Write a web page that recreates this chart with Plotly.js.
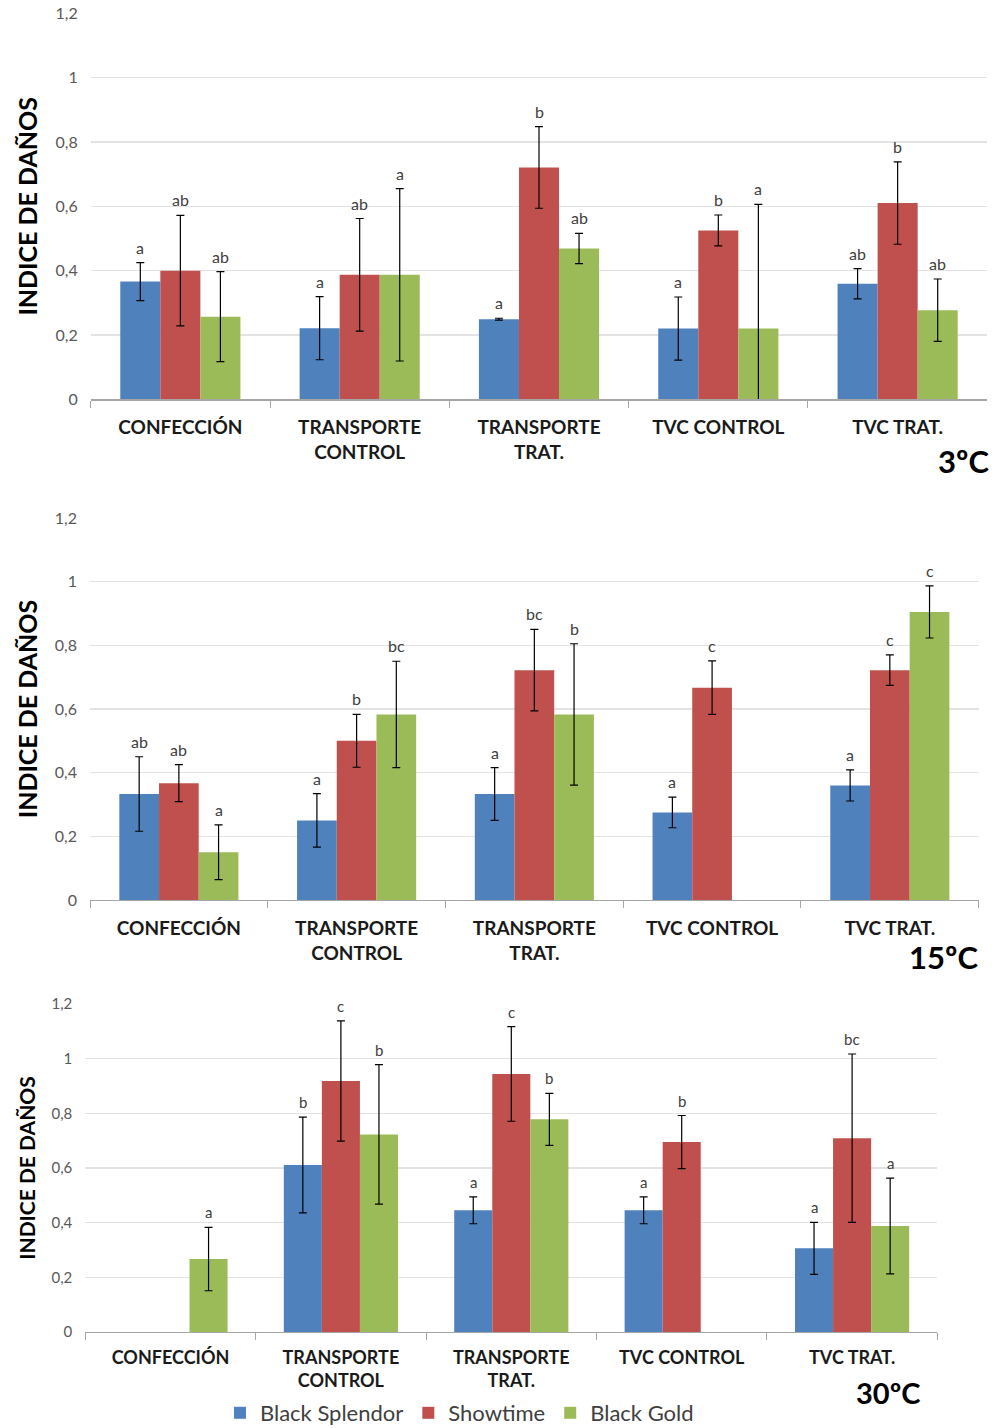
<!DOCTYPE html>
<html>
<head>
<meta charset="utf-8">
<script src="https://cdn.plot.ly/plotly-3.0.1.min.js"></script>
<style>html,body{margin:0;padding:0;background:#fff;}#chart{width:998px;height:1428px;}</style>
</head>
<body>
<div id="chart"></div>
<script>
const categories = ['CONFECCIÓN', 'TRANSPORTE<br>CONTROL', 'TRANSPORTE<br>TRAT.', 'TVC CONTROL', 'TVC TRAT.'];
const seriesNames = ['Black Splendor', 'Showtime', 'Black Gold'];
const seriesColors = ['#4f81bd', '#c0504d', '#9bbb59'];
const panelLabels = ['3ºC', '15ºC', '30ºC'];
const yTicks = [0, 0.2, 0.4, 0.6, 0.8, 1, 1.2];
const yTickText = ['0', '0,2', '0,4', '0,6', '0,8', '1', '1,2'];

// 3ºC
const bs3 = [0.366, 0.221, 0.249, 0.220, 0.359];
const bs3Err = [0.059, 0.098, 0.003, 0.098, 0.047];
const sh3 = [0.400, 0.387, 0.721, 0.525, 0.610];
const sh3Err = [0.172, 0.175, 0.127, 0.048, 0.128];
const bg3 = [0.257, 0.387, 0.469, 0.220, 0.277];
const bg3Err = [0.140, 0.268, 0.047, 0.386, 0.097];
const bs3Let = ['a', 'a', 'a', 'a', 'ab'];
const sh3Let = ['ab', 'ab', 'b', 'b', 'b'];
const bg3Let = ['ab', 'a', 'ab', 'a', 'ab'];

// 15ºC
const bs15 = [0.333, 0.250, 0.333, 0.275, 0.360];
const bs15Err = [0.117, 0.084, 0.083, 0.048, 0.049];
const sh15 = [0.367, 0.500, 0.722, 0.667, 0.722];
const sh15Err = [0.058, 0.083, 0.128, 0.084, 0.048];
const bg15 = [0.150, 0.583, 0.583, null, 0.905];
const bg15Err = [0.086, 0.167, 0.222, null, 0.082];
const bs15Let = ['ab', 'a', 'a', 'a', 'a'];
const sh15Let = ['ab', 'b', 'bc', 'c', 'c'];
const bg15Let = ['a', 'bc', 'b', '', 'c'];

// 30ºC
const bs30 = [null, 0.611, 0.445, 0.445, 0.306];
const bs30Err = [null, 0.175, 0.049, 0.049, 0.095];
const sh30 = [null, 0.918, 0.944, 0.695, 0.709];
const sh30Err = [null, 0.220, 0.173, 0.097, 0.308];
const bg30 = [0.267, 0.723, 0.778, null, 0.388];
const bg30Err = [0.116, 0.255, 0.095, null, 0.175];
const bs30Let = ['', 'b', 'a', 'a', 'a'];
const sh30Let = ['', 'c', 'c', 'b', 'bc'];
const bg30Let = ['a', 'b', 'b', '', 'a'];

const panels = [
  {vals: [bs3, sh3, bg3], errs: [bs3Err, sh3Err, bg3Err], lets: [bs3Let, sh3Let, bg3Let]},
  {vals: [bs15, sh15, bg15], errs: [bs15Err, sh15Err, bg15Err], lets: [bs15Let, sh15Let, bg15Let]},
  {vals: [bs30, sh30, bg30], errs: [bs30Err, sh30Err, bg30Err], lets: [bs30Let, sh30Let, bg30Let]}
];

const W = 998, H = 1428;
const geom = [
  {x0: 90.7, x1: 987.3, yTop: 13.3, yBot: 399.3, tickSize: 16, catSize: 19, titleSize: 25, letSize: 16, tagSize: 31, tagX: 963, tagY: 461, std: 11, tstd: 12},
  {x0: 90, x1: 978.7, yTop: 518, yBot: 900, tickSize: 16, catSize: 19, titleSize: 25, letSize: 16, tagSize: 31, tagX: 943, tagY: 957, std: 11, tstd: 12},
  {x0: 85.3, x1: 937.3, yTop: 1004, yBot: 1332, tickSize: 15, catSize: 18, titleSize: 21, letSize: 15, tagSize: 29, tagX: 888, tagY: 1392, std: 9, tstd: 12}
];
const bargap = 0.33;
const FONT = 'Lato, "Open Sans", sans-serif';

const traces = [];
const annotations = [];
const layout = {
  width: W, height: H,
  margin: {l: 0, r: 0, t: 0, b: 0, autoexpand: false},
  paper_bgcolor: '#fff', plot_bgcolor: '#fff',
  barmode: 'group', bargap: bargap, bargroupgap: 0,
  font: {family: FONT, color: '#404040'},
  showlegend: true,
  legend: {orientation: 'h', x: 0.2204, xanchor: 'left', y: 1 - 1413 / H, yanchor: 'middle',
           font: {size: 22, color: '#404040', family: FONT}, traceorder: 'normal', itemwidth: 30},
  annotations: annotations
};

panels.forEach((p, k) => {
  const g = geom[k];
  const sfx = k === 0 ? '' : String(k + 1);
  const xa = 'x' + sfx, ya = 'y' + sfx;
  for (let j = 0; j < 3; j++) {
    traces.push({
      type: 'bar', name: seriesNames[j], x: categories, y: p.vals[j],
      xaxis: xa, yaxis: ya, legendgroup: seriesNames[j], showlegend: k === 0,
      marker: {color: seriesColors[j]},
      error_y: {type: 'data', array: p.errs[j], visible: true, color: '#000', thickness: 1.2, width: 4},
      hoverinfo: 'y'
    });
    const off = (j - 1) * (1 - bargap) / 3;
    p.vals[j].forEach((v, i) => {
      if (v === null || !p.lets[j][i]) return;
      annotations.push({
        xref: xa, yref: ya, x: i + off, y: v + p.errs[j][i],
        text: p.lets[j][i], showarrow: false, yanchor: 'bottom', yshift: 4,
        font: {size: g.letSize, color: '#404040', family: FONT}
      });
    });
  }
  layout['xaxis' + sfx] = {
    domain: [g.x0 / W, g.x1 / W], anchor: ya,
    type: 'category', range: [-0.5, 4.5], tickson: 'boundaries',
    ticks: 'outside', ticklen: 7, tickcolor: '#a6a6a6', tickwidth: 1,
    showline: true, linecolor: '#a6a6a6', linewidth: 1.3,
    showgrid: false, zeroline: false, ticklabelstandoff: g.std,
    tickfont: {size: g.catSize, color: '#1a1a1a', family: FONT, weight: 'bold'}
  };
  layout['yaxis' + sfx] = {
    domain: [1 - g.yBot / H, 1 - g.yTop / H], anchor: xa,
    range: [0, 1.2], tickvals: yTicks, ticktext: yTickText,
    showgrid: true, gridcolor: '#e3e3e3', gridwidth: 1.3, zeroline: false,
    showline: false, ticks: '', ticklabelstandoff: g.tstd,
    tickfont: {size: g.tickSize, color: '#595959', family: FONT},
    title: {text: 'INDICE DE DAÑOS', standoff: 10,
            font: {size: g.titleSize, color: '#000', family: FONT, weight: 'bold'}}
  };
  annotations.push({
    xref: 'paper', yref: 'paper', x: g.tagX / W, y: 1 - g.tagY / H,
    text: '<b>' + panelLabels[k] + '</b>', showarrow: false,
    xanchor: 'center', yanchor: 'middle',
    font: {size: g.tagSize, color: '#000', family: FONT}
  });
});

Plotly.newPlot('chart', traces, layout, {staticPlot: true});
</script>
</body>
</html>
